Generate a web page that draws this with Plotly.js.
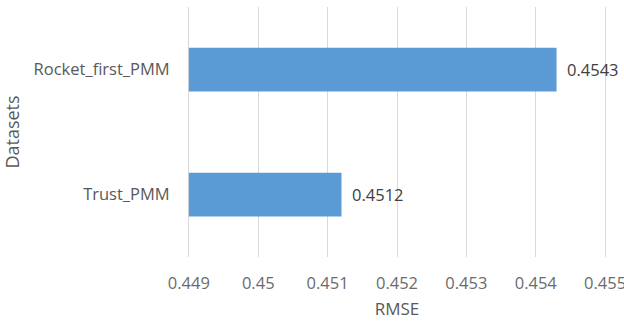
<!DOCTYPE html>
<html>
<head>
<meta charset="utf-8">
<script src="https://cdn.plot.ly/plotly-3.0.1.min.js"></script>
<style>html,body{margin:0;padding:0;background:#fff;}#chart{width:624px;height:324px;}</style>
</head>
<body>
<div id="chart"></div>
<script>
const categories = ["Trust_PMM", "Rocket_first_PMM"];
const rmseValues = [0.4512, 0.4543];
const valueLabels = ["0.4512", "0.4543"];
const tickValues = [0.449, 0.45, 0.451, 0.452, 0.453, 0.454, 0.455];
const tickLabels = ["0.449", "0.45", "0.451", "0.452", "0.453", "0.454", "0.455"];
const axisBase = 0.449;
const axisRange = [0.4488, 0.4552];

const font = "Open Sans, sans-serif";
const trace = {
  type: "bar",
  orientation: "h",
  y: categories,
  x: rmseValues.map(v => v - axisBase),
  base: axisBase,
  marker: {color: "#5B9BD5"},
  hoverinfo: "none"
};

const annotations = categories.map((c, i) => ({
  x: rmseValues[i], y: c, xref: "x", yref: "y",
  text: valueLabels[i], showarrow: false,
  xanchor: "left", xshift: 8,
  font: {family: font, size: 16.5, color: "#404040"}
}));

const layout = {
  width: 624, height: 324,
  margin: {l: 175, r: 5, t: 7, b: 67},
  paper_bgcolor: "#fff", plot_bgcolor: "#fff",
  showlegend: false,
  bargap: 0.65,
  font: {family: font, color: "#595959"},
  xaxis: {
    range: axisRange,
    tickvals: tickValues, ticktext: tickLabels,
    showgrid: true, gridcolor: "#D9D9D9", gridwidth: 1,
    zeroline: false, showline: false,
    ticks: "outside", ticklen: 11, tickcolor: "rgba(0,0,0,0)",
    ticklabeloverflow: "allow",
    tickfont: {family: font, size: 16.5, color: "#6b6b6b"},
    title: {text: "RMSE", font: {family: font, size: 17, color: "#595959"}, standoff: 10},
    automargin: false
  },
  yaxis: {
    type: "category",
    categoryorder: "array", categoryarray: categories,
    showgrid: false, zeroline: false, showline: false,
    ticks: "outside", ticklen: 1, tickcolor: "rgba(0,0,0,0)",
    tickfont: {family: font, size: 16.5, color: "#595959"},
    title: {text: "Datasets", font: {family: font, size: 18, color: "#595959"}, standoff: 10},
    automargin: false
  },
  annotations: annotations
};

Plotly.newPlot("chart", [trace], layout, {displayModeBar: false, staticPlot: true});
</script>
</body>
</html>
